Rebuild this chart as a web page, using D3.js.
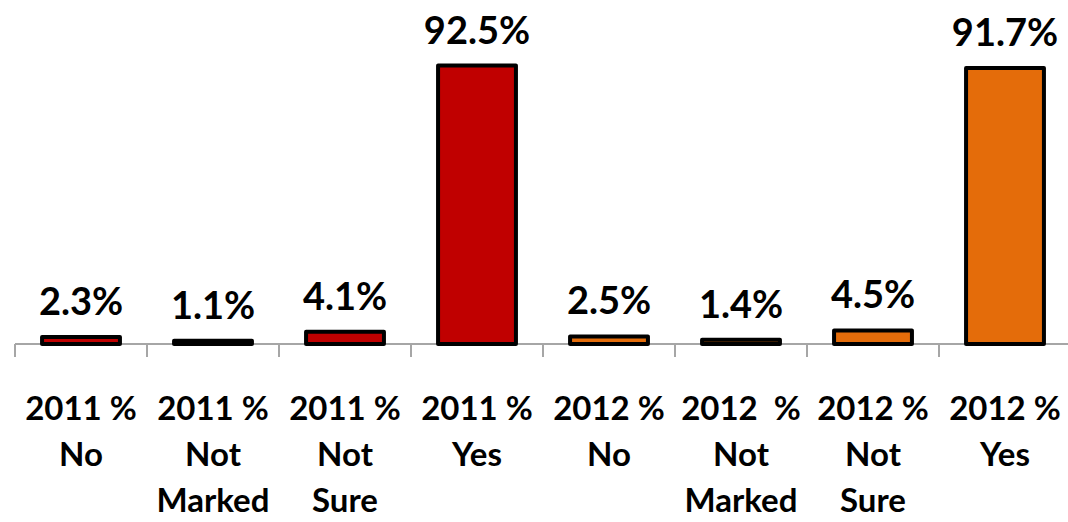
<!DOCTYPE html>
<html>
<head>
<meta charset="utf-8">
<script src="https://cdn.jsdelivr.net/npm/d3@7"></script>
<style>
  body { margin: 0; background: #fff; }
  text { font-family: Lato, "Open Sans", sans-serif; font-weight: bold; fill: #000; }
</style>
</head>
<body>
<svg id="chart" width="1068" height="522"></svg>
<script>
// categories, wrapped the way the original labels wrap
var categories = ["2011 No", "2011 Not Marked", "2011 Not Sure", "2011 Yes",
                  "2012 No", "2012 Not Marked", "2012 Not Sure", "2012 Yes"];
var labelLines = [
  ["2011 %", "No"], ["2011 %", "Not", "Marked"], ["2011 %", "Not", "Sure"], ["2011 %", "Yes"],
  ["2012 %", "No"], ["2012  %", "Not", "Marked"], ["2012 %", "Not", "Sure"], ["2012 %", "Yes"]
];
var values = [2.3, 1.1, 4.1, 92.5, 2.5, 1.4, 4.5, 91.7];
var years = ["2011", "2011", "2011", "2011", "2012", "2012", "2012", "2012"];
var colors = {"2011": "#C00000", "2012": "#E46C0A"};

var svg = d3.select("#chart");
var baseY = 344;

var x = d3.scaleBand()
  .domain(categories)
  .range([15, 15 + 8 * 132])
  .paddingInner(0.41)
  .paddingOuter(0.205);

var y = d3.scaleLinear()
  .domain([0, 100])
  .range([baseY, baseY - 301]);

// axis line + tick marks at category boundaries
var gap = (x.step() - x.bandwidth()) / 2;
svg.append("line")
  .attr("x1", 15).attr("x2", 1068)
  .attr("y1", baseY).attr("y2", baseY)
  .attr("stroke", "#A6A6A6").attr("stroke-width", 2);

svg.selectAll(".tick")
  .data(categories)
  .enter().append("line")
  .attr("class", "tick")
  .attr("x1", function(d) { return x(d) - gap; })
  .attr("x2", function(d) { return x(d) - gap; })
  .attr("y1", baseY).attr("y2", baseY + 13)
  .attr("stroke", "#A6A6A6").attr("stroke-width", 2);

// bars
svg.selectAll(".bar")
  .data(values)
  .enter().append("rect")
  .attr("class", "bar")
  .attr("x", function(d, i) { return x(categories[i]); })
  .attr("width", x.bandwidth())
  .attr("y", function(d) { return y(d); })
  .attr("height", function(d) { return baseY - y(d); })
  .attr("fill", function(d, i) { return colors[years[i]]; })
  .attr("stroke", "#000")
  .attr("stroke-width", 4)
  .attr("stroke-linejoin", "round");

// value labels
svg.selectAll(".val")
  .data(values)
  .enter().append("text")
  .attr("class", "val")
  .attr("x", function(d, i) { return x(categories[i]) + x.bandwidth() / 2; })
  .attr("y", function(d) { return y(d) - 22; })
  .attr("text-anchor", "middle")
  .style("font-size", "38px")
  .text(function(d) { return d.toFixed(1) + "%"; });

// category labels
var lab = svg.selectAll(".cat")
  .data(categories)
  .enter().append("text")
  .attr("class", "cat")
  .attr("text-anchor", "middle")
  .style("font-size", "33px")
  .style("white-space", "pre")
  .attr("transform", function(d) { return "translate(" + (x(d) + x.bandwidth() / 2) + ",0)"; });

lab.selectAll("tspan")
  .data(function(d, i) { return labelLines[i]; })
  .enter().append("tspan")
  .attr("x", 0)
  .attr("y", function(d, j) { return 420 + j * 46; })
  .text(function(d) { return d; });
</script>
</body>
</html>
